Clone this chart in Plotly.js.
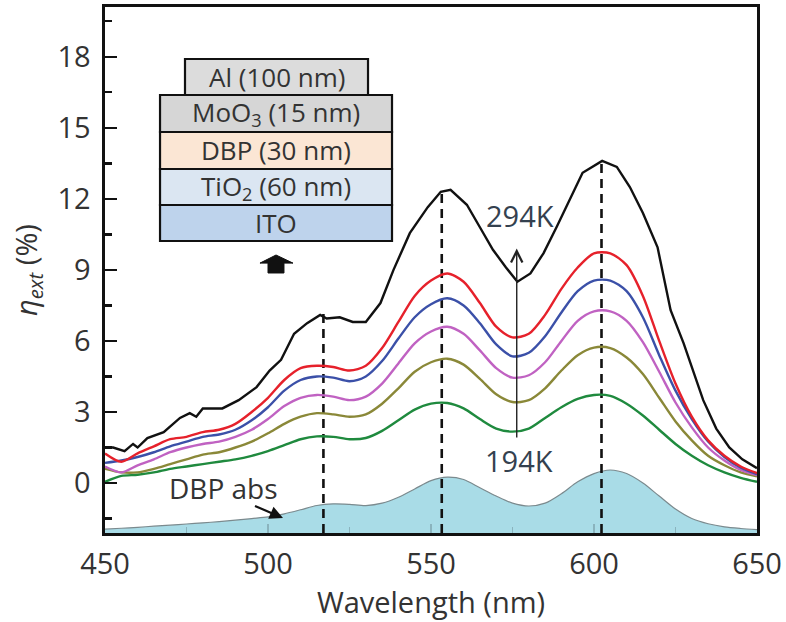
<!DOCTYPE html>
<html>
<head>
<meta charset="utf-8">
<script src="https://cdn.plot.ly/plotly-3.0.1.min.js"></script>
<style>html,body{margin:0;padding:0;background:#fff;}#chart{width:786px;height:622px;}</style>
</head>
<body>
<div id="chart"></div>
<script>
// ---- data ----
var wavelength = [450,455,460,465,470,475,480,485,490,495,500,505,510,515,520,525,530,535,540,545,550,555,560,565,570,575,580,585,590,595,600,605,610,615,620,625,630,635,640,645,650];

var redVals = [1.25,0.9,1.25,1.55,1.85,1.95,2.15,2.25,2.5,3.0,3.6,4.35,4.85,4.95,4.9,4.75,4.95,5.7,6.8,7.9,8.55,8.85,8.5,7.6,6.6,6.15,6.3,7.1,8.2,9.1,9.7,9.7,9.2,7.9,6.0,4.2,2.8,1.8,1.15,0.7,0.42];
var blueVals = [0.85,0.95,1.1,1.3,1.55,1.75,1.95,2.05,2.25,2.65,3.2,3.9,4.35,4.5,4.45,4.3,4.5,5.15,6.1,7.0,7.55,7.8,7.5,6.75,5.85,5.35,5.5,6.2,7.2,8.1,8.55,8.55,8.1,7.0,5.4,3.9,2.7,1.75,1.1,0.65,0.38];
var magentaVals = [0.7,0.45,0.75,1.0,1.3,1.5,1.65,1.75,1.95,2.25,2.7,3.25,3.6,3.72,3.65,3.5,3.65,4.2,5.05,5.9,6.4,6.6,6.3,5.6,4.85,4.45,4.55,5.1,6.0,6.85,7.25,7.25,6.85,5.95,4.7,3.4,2.35,1.5,0.95,0.55,0.33];
var oliveVals = [0.6,0.45,0.45,0.6,0.8,1.0,1.2,1.3,1.5,1.75,2.1,2.5,2.8,2.95,2.9,2.8,2.9,3.35,4.0,4.7,5.1,5.25,5.0,4.4,3.75,3.42,3.5,4.0,4.75,5.4,5.72,5.7,5.3,4.6,3.6,2.6,1.8,1.15,0.75,0.45,0.28];
var greenVals = [0.05,0.3,0.35,0.45,0.6,0.7,0.8,0.9,1.0,1.15,1.35,1.6,1.85,1.97,1.95,1.85,1.9,2.2,2.65,3.1,3.35,3.38,3.15,2.7,2.3,2.17,2.3,2.75,3.2,3.55,3.72,3.68,3.35,2.85,2.25,1.65,1.15,0.75,0.45,0.22,0.05];
var absVals = [-1.95,-1.91,-1.87,-1.82,-1.78,-1.73,-1.68,-1.63,-1.57,-1.5,-1.43,-1.3,-1.13,-0.95,-0.88,-0.9,-0.95,-0.85,-0.6,-0.25,0.1,0.25,0.15,-0.2,-0.55,-0.85,-0.97,-0.85,-0.45,0.05,0.4,0.55,0.4,0.0,-0.55,-1.1,-1.5,-1.72,-1.85,-1.92,-1.97];

var blackWavelength = [450,452.5,456,458.6,460,463,468,473,476,478,480,486,491,496.5,500.5,504,508,512,516,518,522,526,530,534.5,538.5,543.5,549,553,556,561,565,569,573,576.5,580.5,584.5,588.5,592.5,596.5,602.5,607,611,615,619.5,623.5,627.5,633.5,637.5,641.5,645.5,650];
var blackVals = [1.5,1.5,1.35,1.65,1.5,1.9,2.15,2.75,2.95,2.8,3.15,3.15,3.5,4.05,4.75,5.2,6.3,6.75,7.1,6.95,7.0,6.8,6.8,7.6,9.0,10.55,11.65,12.3,12.38,11.75,10.8,9.85,9.1,8.5,8.85,9.7,10.8,11.95,13.1,13.6,13.35,12.5,11.4,9.95,7.3,5.9,3.5,2.3,1.5,1.0,0.63];

var peakWavelengths = [517, 553.3, 602.3];
var peakTops = [7.15, 12.3, 13.7];

var xTickVals = [450,500,550,600,650];
var yTickVals = [0,3,6,9,12,15,18];
var xRange = [450, 650];
var yRange = [-2.11, 20.1];

var labelHigh = "294K", labelLow = "194K", labelAbs = "DBP abs";
var stackLabels = ["Al (100 nm)", "MoO<sub>3</sub> (15 nm)", "DBP (30 nm)", "TiO<sub>2</sub> (60 nm)", "ITO"];
var stackFills = ["#dcdcdc", "#d6d6d6", "#fbe6d4", "#dbe6f2", "#bed3ec"];
var arrowX = 576.3, arrowFrom = 1.8, arrowTo = 9.9;

// ---- traces ----
var FONT = "Open Sans, Noto Sans, sans-serif";
var traces = [];
traces.push({x: xRange, y: [yRange[0], yRange[0]], mode: 'lines', line: {width: 0, color: 'rgba(0,0,0,0)'}, hoverinfo: 'skip', showlegend: false});
traces.push({x: wavelength, y: absVals, mode: 'lines', fill: 'tonexty', fillcolor: '#a9dce7', line: {color: '#7b8a8e', width: 1.2, shape: 'spline', smoothing: 0.8}, showlegend: false});
peakWavelengths.forEach(function (w, i) {
  traces.push({x: [w, w], y: [yRange[0], peakTops[i]], mode: 'lines', line: {color: '#111', width: 2.6, dash: '9px,6px'}, showlegend: false});
});
function curve(y, color) {
  return {x: wavelength, y: y, mode: 'lines', line: {color: color, width: 2.4, shape: 'spline', smoothing: 0.8}, showlegend: false};
}
traces.push(curve(greenVals, '#1f8a3e'));
traces.push(curve(oliveVals, '#8a8838'));
traces.push(curve(magentaVals, '#c062c2'));
traces.push(curve(blueVals, '#3b50a8'));
traces.push(curve(redVals, '#e6212b'));
traces.push({x: blackWavelength, y: blackVals, mode: 'lines', line: {color: '#111', width: 2.4}, showlegend: false});

// ---- inset (device stack) in paper coords ----
var shapes = [];
var annotations = [];
var boxes = [
  [0.1227, 0.4034, 0.9011, 0.8327],
  [0.0844, 0.4402, 0.8327, 0.7624],
  [0.0844, 0.4402, 0.7624, 0.6920],
  [0.0844, 0.4402, 0.6920, 0.6236],
  [0.0844, 0.4402, 0.6236, 0.5551]
];
boxes.forEach(function (b, i) {
  shapes.push({type: 'rect', xref: 'paper', yref: 'paper', x0: b[0], x1: b[1], y0: b[3], y1: b[2], fillcolor: stackFills[i], line: {color: '#111', width: 2.2}, layer: 'above'});
  annotations.push({xref: 'paper', yref: 'paper', x: (b[0] + b[1]) / 2, y: (b[2] + b[3]) / 2, text: stackLabels[i], showarrow: false, font: {family: FONT, size: 26, color: '#333'}, xanchor: 'center', yanchor: 'middle'});
});
shapes.push({type: 'path', xref: 'paper', yref: 'paper', path: 'M0.2377,0.5131 L0.2623,0.5285 L0.2883,0.5131 L0.2745,0.5131 L0.2745,0.4943 L0.2500,0.4943 L0.2500,0.5131 Z', fillcolor: '#111', line: {color: '#111', width: 1}});

annotations.push({x: arrowX, y: arrowTo, ax: arrowX, ay: arrowFrom, xref: 'x', yref: 'y', axref: 'x', ayref: 'y', showarrow: true, arrowhead: 5, arrowsize: 1.6, arrowwidth: 1.4, arrowcolor: '#222', text: ' ', font: {size: 2}});
annotations.push({x: 577.3, y: 11.3, xref: 'x', yref: 'y', text: labelHigh, showarrow: false, font: {family: FONT, size: 29, color: '#34414f'}});
annotations.push({x: 577, y: 0.97, xref: 'x', yref: 'y', text: labelLow, showarrow: false, font: {family: FONT, size: 29, color: '#34414f'}});
annotations.push({x: 486.2, y: -0.2, xref: 'x', yref: 'y', text: labelAbs, showarrow: false, font: {family: FONT, size: 28, color: '#333'}});
annotations.push({x: 504.6, y: -1.48, ax: 495.4, ay: -0.93, xref: 'x', yref: 'y', axref: 'x', ayref: 'y', showarrow: true, arrowhead: 2, arrowsize: 1.2, arrowwidth: 2.2, arrowcolor: '#111', text: ' ', font: {size: 2}});

var layout = {
  width: 786, height: 622,
  margin: {l: 105, r: 29, t: 7, b: 89},
  paper_bgcolor: '#fff', plot_bgcolor: '#fff',
  showlegend: false,
  font: {family: FONT, color: '#333'},
  xaxis: {
    range: xRange, tickvals: xTickVals, ticks: 'inside', ticklen: 9, tickwidth: 1.5, tickcolor: '#8ab3bd',
    minor: {dtick: 25, tick0: 450, ticks: 'inside', ticklen: 6, tickwidth: 1.5, tickcolor: '#8ab3bd'},
    showline: true, linecolor: '#111', linewidth: 2.6, mirror: true, showgrid: false, zeroline: false,
    tickfont: {family: FONT, size: 29, color: '#333'}, ticklabelstandoff: 4,
    title: {text: 'Wavelength (nm)', font: {family: FONT, size: 29, color: '#333'}, standoff: 8}
  },
  yaxis: {
    range: yRange, tickvals: yTickVals, ticks: 'inside', ticklen: 12, tickwidth: 2.4, tickcolor: '#111',
    minor: {dtick: 1.5, tick0: 0, ticks: 'inside', ticklen: 7, tickwidth: 2.4, tickcolor: '#111'},
    showline: true, linecolor: '#111', linewidth: 2.6, mirror: true, showgrid: false, zeroline: false,
    tickfont: {family: FONT, size: 29, color: '#333'}, ticklabelstandoff: 6,
    title: {text: '<i>η</i><sub><i>ext</i></sub> (%)', font: {family: FONT, size: 29, color: '#333'}, standoff: 12}
  },
  shapes: shapes,
  annotations: annotations
};

Plotly.newPlot('chart', traces, layout, {displayModeBar: false, staticPlot: true});
</script>
</body>
</html>
